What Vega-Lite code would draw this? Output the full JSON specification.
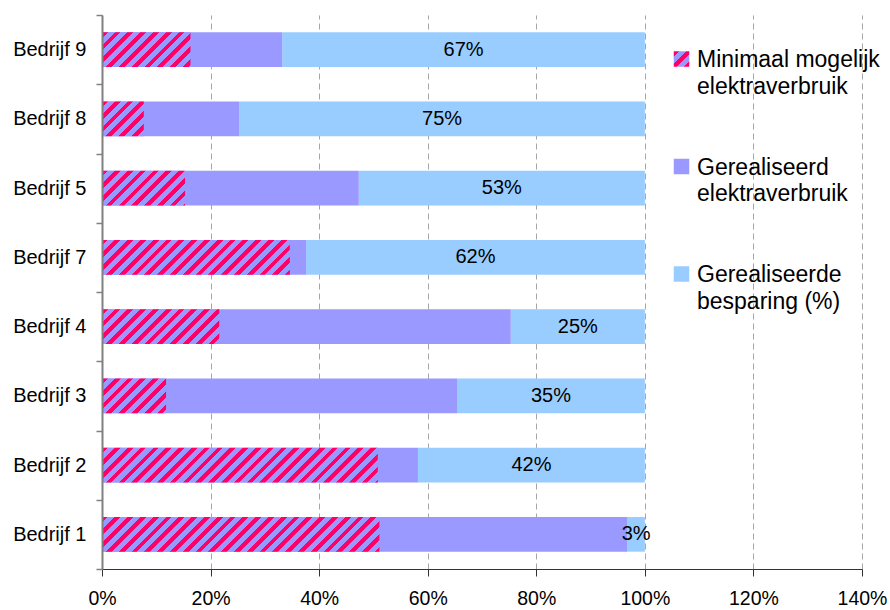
{
  "$schema": "https://vega.github.io/schema/vega-lite/v6.json",
  "width": 760,
  "height": 554,
  "autosize": {"type": "none"},
  "padding": {"left": 102, "top": 15, "right": 28, "bottom": 41},
  "config": {"font": "Liberation Sans", "view": {"stroke": null}},
  "params": [
    {"name": "hatch", "value": [
      {"offset":0,"color":"#ff0066"},{"offset":0.018,"color":"#ff0066"},{"offset":0.018,"color":"#9999ff"},{"offset":0.04,"color":"#9999ff"},
      {"offset":0.04,"color":"#ff0066"},{"offset":0.058,"color":"#ff0066"},{"offset":0.058,"color":"#9999ff"},{"offset":0.08,"color":"#9999ff"},
      {"offset":0.08,"color":"#ff0066"},{"offset":0.098,"color":"#ff0066"},{"offset":0.098,"color":"#9999ff"},{"offset":0.12,"color":"#9999ff"},
      {"offset":0.12,"color":"#ff0066"},{"offset":0.138,"color":"#ff0066"},{"offset":0.138,"color":"#9999ff"},{"offset":0.16,"color":"#9999ff"},
      {"offset":0.16,"color":"#ff0066"},{"offset":0.178,"color":"#ff0066"},{"offset":0.178,"color":"#9999ff"},{"offset":0.2,"color":"#9999ff"},
      {"offset":0.2,"color":"#ff0066"},{"offset":0.218,"color":"#ff0066"},{"offset":0.218,"color":"#9999ff"},{"offset":0.24,"color":"#9999ff"},
      {"offset":0.24,"color":"#ff0066"},{"offset":0.258,"color":"#ff0066"},{"offset":0.258,"color":"#9999ff"},{"offset":0.28,"color":"#9999ff"},
      {"offset":0.28,"color":"#ff0066"},{"offset":0.298,"color":"#ff0066"},{"offset":0.298,"color":"#9999ff"},{"offset":0.32,"color":"#9999ff"},
      {"offset":0.32,"color":"#ff0066"},{"offset":0.338,"color":"#ff0066"},{"offset":0.338,"color":"#9999ff"},{"offset":0.36,"color":"#9999ff"},
      {"offset":0.36,"color":"#ff0066"},{"offset":0.378,"color":"#ff0066"},{"offset":0.378,"color":"#9999ff"},{"offset":0.4,"color":"#9999ff"},
      {"offset":0.4,"color":"#ff0066"},{"offset":0.418,"color":"#ff0066"},{"offset":0.418,"color":"#9999ff"},{"offset":0.44,"color":"#9999ff"},
      {"offset":0.44,"color":"#ff0066"},{"offset":0.458,"color":"#ff0066"},{"offset":0.458,"color":"#9999ff"},{"offset":0.48,"color":"#9999ff"},
      {"offset":0.48,"color":"#ff0066"},{"offset":0.498,"color":"#ff0066"},{"offset":0.498,"color":"#9999ff"},{"offset":0.52,"color":"#9999ff"},
      {"offset":0.52,"color":"#ff0066"},{"offset":0.538,"color":"#ff0066"},{"offset":0.538,"color":"#9999ff"},{"offset":0.56,"color":"#9999ff"},
      {"offset":0.56,"color":"#ff0066"},{"offset":0.578,"color":"#ff0066"},{"offset":0.578,"color":"#9999ff"},{"offset":0.6,"color":"#9999ff"},
      {"offset":0.6,"color":"#ff0066"},{"offset":0.618,"color":"#ff0066"},{"offset":0.618,"color":"#9999ff"},{"offset":0.64,"color":"#9999ff"},
      {"offset":0.64,"color":"#ff0066"},{"offset":0.658,"color":"#ff0066"},{"offset":0.658,"color":"#9999ff"},{"offset":0.68,"color":"#9999ff"},
      {"offset":0.68,"color":"#ff0066"},{"offset":0.698,"color":"#ff0066"},{"offset":0.698,"color":"#9999ff"},{"offset":0.72,"color":"#9999ff"},
      {"offset":0.72,"color":"#ff0066"},{"offset":0.738,"color":"#ff0066"},{"offset":0.738,"color":"#9999ff"},{"offset":0.76,"color":"#9999ff"},
      {"offset":0.76,"color":"#ff0066"},{"offset":0.778,"color":"#ff0066"},{"offset":0.778,"color":"#9999ff"},{"offset":0.8,"color":"#9999ff"},
      {"offset":0.8,"color":"#ff0066"},{"offset":0.818,"color":"#ff0066"},{"offset":0.818,"color":"#9999ff"},{"offset":0.84,"color":"#9999ff"},
      {"offset":0.84,"color":"#ff0066"},{"offset":0.858,"color":"#ff0066"},{"offset":0.858,"color":"#9999ff"},{"offset":0.88,"color":"#9999ff"},
      {"offset":0.88,"color":"#ff0066"},{"offset":0.898,"color":"#ff0066"},{"offset":0.898,"color":"#9999ff"},{"offset":0.92,"color":"#9999ff"},
      {"offset":0.92,"color":"#ff0066"},{"offset":0.938,"color":"#ff0066"},{"offset":0.938,"color":"#9999ff"},{"offset":0.96,"color":"#9999ff"},
      {"offset":0.96,"color":"#ff0066"},{"offset":0.978,"color":"#ff0066"},{"offset":0.978,"color":"#9999ff"},{"offset":1,"color":"#9999ff"}
    ]}
  ],
  "data": {"values": [
    {"bedrijf": "Bedrijf 9", "minimaal": 0.163, "gerealiseerd": 0.332, "besparing": 0.668},
    {"bedrijf": "Bedrijf 8", "minimaal": 0.077, "gerealiseerd": 0.253, "besparing": 0.747},
    {"bedrijf": "Bedrijf 5", "minimaal": 0.153, "gerealiseerd": 0.473, "besparing": 0.527},
    {"bedrijf": "Bedrijf 7", "minimaal": 0.346, "gerealiseerd": 0.376, "besparing": 0.624},
    {"bedrijf": "Bedrijf 4", "minimaal": 0.216, "gerealiseerd": 0.753, "besparing": 0.247},
    {"bedrijf": "Bedrijf 3", "minimaal": 0.118, "gerealiseerd": 0.654, "besparing": 0.346},
    {"bedrijf": "Bedrijf 2", "minimaal": 0.508, "gerealiseerd": 0.582, "besparing": 0.418},
    {"bedrijf": "Bedrijf 1", "minimaal": 0.511, "gerealiseerd": 0.968, "besparing": 0.032}
  ]},
  "encoding": {
    "y": {
      "field": "bedrijf", "type": "nominal",
      "scale": {"domain": ["Bedrijf 9", "Bedrijf 8", "Bedrijf 5", "Bedrijf 7", "Bedrijf 4", "Bedrijf 3", "Bedrijf 2", "Bedrijf 1"], "paddingInner": 0, "paddingOuter": 0},
      "axis": {"title": null, "tickBand": "extent", "tickSize": 6, "tickColor": "#808080", "tickWidth": 1.5, "domainColor": "#808080", "domainWidth": 2, "labelFontSize": 20, "labelColor": "#000000", "labelPadding": 10, "zindex": 1}
    }
  },
  "layer": [
    {
      "mark": {"type": "bar", "height": {"band": 0.5}},
      "encoding": {
        "x": {"field": "gerealiseerd", "type": "quantitative",
          "scale": {"domain": [0, 1.4], "nice": false},
          "axis": {"title": null, "values": [0, 0.2, 0.4, 0.6, 0.8, 1, 1.2, 1.4], "format": ".0%", "grid": true, "gridDash": [6, 4], "gridColor": "#a6a6a6", "domainColor": "#333333", "tickColor": "#333333", "tickSize": 7, "labelFontSize": 19.5, "labelColor": "#000000", "labelPadding": 13, "labelFlush": false}},
        "x2": {"datum": 1},
        "color": {
          "datum": "Gerealiseerde besparing (%)",
          "scale": {"domain": ["Minimaal mogelijk elektraverbruik", "Gerealiseerd elektraverbruik", "Gerealiseerde besparing (%)"], "range": [{"expr": "{gradient: 'linear', x1: 0, y1: 0, x2: 10.32, y2: 10.32, stops: hatch}"}, "#9999ff", "#99ccff"]},
          "legend": {
            "title": null, "orient": "none", "legendX": 568, "legendY": 32.5, "padding": 0,
            "symbolType": "square", "symbolSize": 240, "symbolStrokeWidth": 0,
            "labelFontSize": 23, "labelColor": "#000000", "labelLimit": 300, "labelOffset": 4,
            "labelBaseline": "top", "rowPadding": 56.5,
            "labelExpr": "datum.label == 'Minimaal mogelijk elektraverbruik' ? ['Minimaal mogelijk', 'elektraverbruik'] : datum.label == 'Gerealiseerd elektraverbruik' ? ['Gerealiseerd', 'elektraverbruik'] : ['Gerealiseerde', 'besparing (%)']",
            "encode": {
              "labels": {"update": {"dy": {"value": -10}, "lineHeight": {"value": 26.5}}}
            }
          }
        }
      }
    },
    {
      "mark": {"type": "bar", "height": {"band": 0.5}},
      "encoding": {
        "x": {"field": "gerealiseerd", "type": "quantitative"},
        "color": {"datum": "Gerealiseerd elektraverbruik"}
      }
    },
    {
      "mark": {"type": "bar", "height": {"band": 0.5}, "fill": {"expr": "{gradient: 'linear', x1: 0, y1: 0, x2: (datum.minimaal*width/1.4)*320/(pow(datum.minimaal*width/1.4, 2) + pow(bandwidth('y')*0.5, 2)), y2: bandwidth('y')*0.5*320/(pow(datum.minimaal*width/1.4, 2) + pow(bandwidth('y')*0.5, 2)), stops: hatch}"}},
      "encoding": {
        "x": {"field": "minimaal", "type": "quantitative"}
      }
    },
    {
      "transform": [{"calculate": "(datum.gerealiseerd + 1) / 2", "as": "labelpos"}],
      "mark": {"type": "text", "fontSize": 20, "color": "#000000"},
      "encoding": {
        "x": {"field": "labelpos", "type": "quantitative"},
        "text": {"field": "besparing", "format": ".0%"}
      }
    }
  ]
}
